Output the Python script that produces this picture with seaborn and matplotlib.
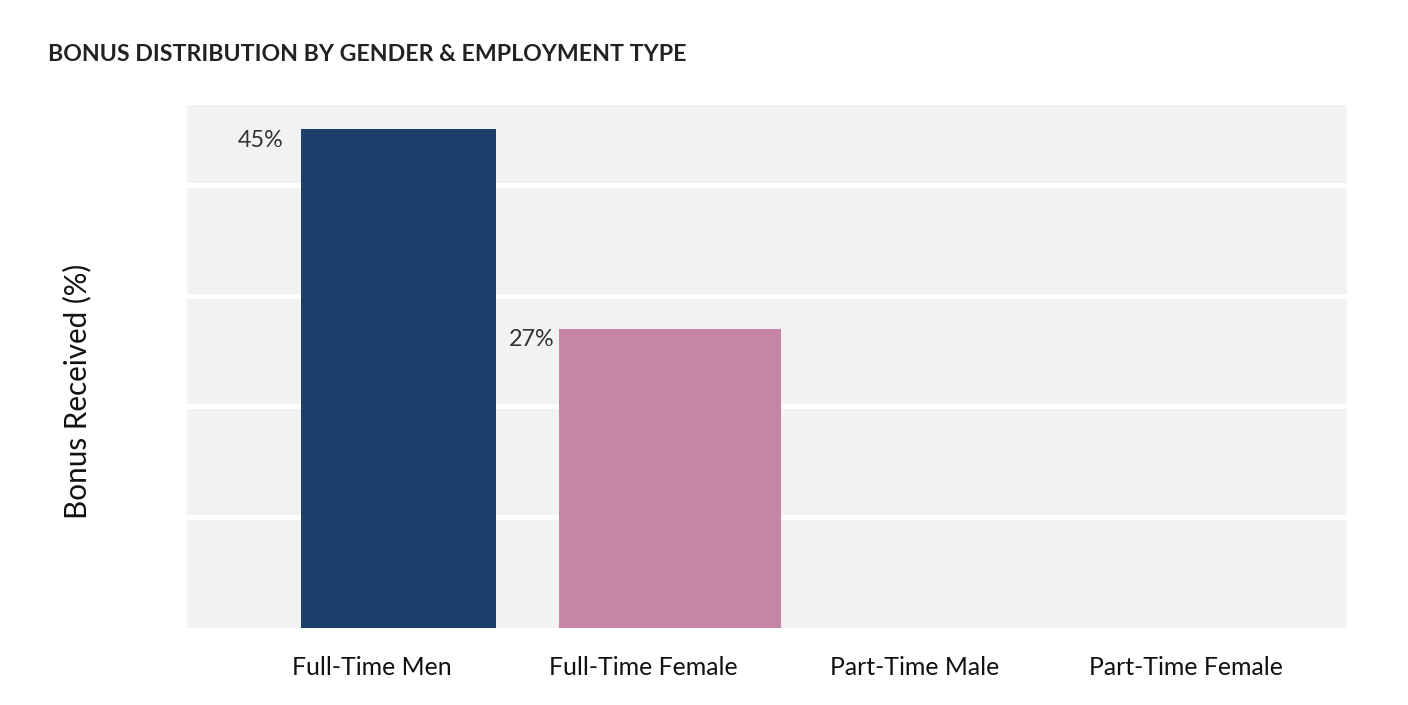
import numpy as np
import pandas as pd
import matplotlib.pyplot as plt
import matplotlib.transforms as mtransforms
import seaborn as sns

# data
groups = ['Full-Time Men', 'Full-Time Female', 'Part-Time Male', 'Part-Time Female']
bonus_pct = [45, 27, 0, 0]
bar_colors = ['#1A406B', '#C486A4', '#C486A4', '#C486A4']
bar_widths = [0.72, 0.82, 0.77, 0.77]
grid_levels = [10, 20, 30, 40]

df = pd.DataFrame({'Group': groups, 'Bonus': bonus_pct})

sns.set_theme(style='white')
plt.rcParams['font.family'] = ['Lato', 'DejaVu Sans']

fig = plt.figure(figsize=(14.08, 7.05), dpi=100)
ax = fig.add_axes([0.1328, 0.1092, 0.8239, 0.7418])
ax.set_facecolor('#F2F2F2')

sns.barplot(data=df, x='Group', y='Bonus', hue='Group', palette=bar_colors,
            legend=False, width=0.77, saturation=1, linewidth=0, ax=ax, zorder=3)

# the original bars are not all the same width
for patch, w in zip(ax.patches, bar_widths):
    cx = patch.get_x() + patch.get_width() / 2
    patch.set_x(cx - w / 2)
    patch.set_width(w)

for y in grid_levels:
    ax.axhline(y, color='white', lw=3.5, zorder=1)

# value labels to the left of each bar top
for patch, val in zip(ax.patches, bonus_pct):
    if val <= 0:
        continue
    cx = patch.get_x() + patch.get_width() / 2
    ax.annotate(f'{val}%', xy=(cx, patch.get_height()),
                xytext=(-83, -8), textcoords='offset points',
                ha='right', va='center', fontsize=16.8, color='#333333')

ax.set_xlim(-0.778, 3.492)
ax.set_ylim(0, 47.2)
ax.set_yticks([])
ax.set_xlabel('')
ax.set_ylabel('Bonus Received (%)', fontsize=21.3, color='#111111')
ax.yaxis.set_label_coords(-0.082, 0.453)
ax.tick_params(axis='x', length=0, pad=20, labelsize=17.9, labelcolor='#111111')

shift = mtransforms.ScaledTranslation(-27 / 100, 0, fig.dpi_scale_trans)
for lbl in ax.get_xticklabels():
    lbl.set_transform(lbl.get_transform() + shift)

for s in ax.spines.values():
    s.set_visible(False)

fig.text(0.034, 0.922, 'BONUS DISTRIBUTION BY GENDER & EMPLOYMENT TYPE',
         fontsize=16.7, fontweight='bold', color='#222222', va='center', ha='left')

fig.savefig('out.png', dpi=100)
